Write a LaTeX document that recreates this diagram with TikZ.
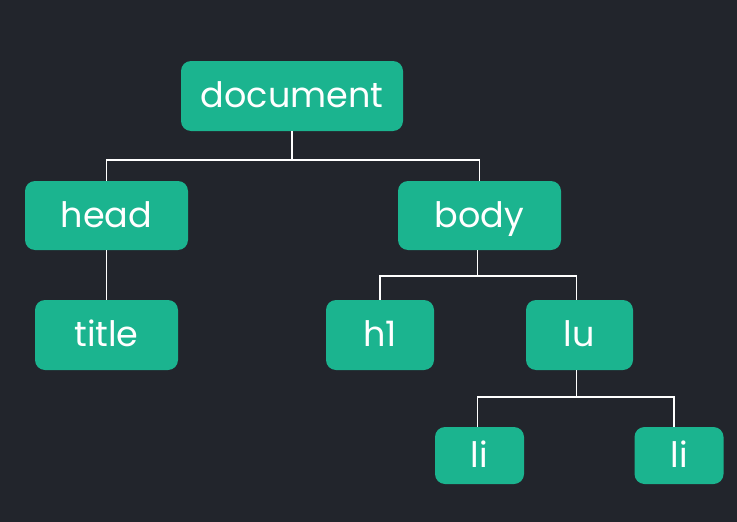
\documentclass[tikz,border=0pt]{standalone}
\usepackage{fontspec}
\setmainfont{Poppins}
\usetikzlibrary{positioning}

\definecolor{bgdark}{HTML}{22252C}
\definecolor{teal}{HTML}{1BB48F}

\begin{document}
\begin{tikzpicture}[
    x=1pt, y=-1pt,
    tag/.style={fill=teal, text=white, rounded corners=10pt, inner sep=0pt,
        text height=28pt, text depth=5pt,
        font=\fontsize{35}{35}\selectfont}, % Style for element boxes
    link/.style={draw=white, line width=1.5pt} % Style for tree edges
]

% Background
\fill[bgdark] (0,0) rectangle (737,522);

% Element boxes
\node[tag, minimum width=222pt, minimum height=70pt] (doc) at (292,96) {document};
\node[tag, minimum width=163pt, minimum height=69pt] (head) at (106.5,215.5) {head};
\node[tag, minimum width=163pt, minimum height=69pt] (body) at (479.5,215.5) {body};
\node[tag, minimum width=143pt, minimum height=70pt] (title) at (106.5,335) {title};
\node[tag, minimum width=108pt, minimum height=70pt] (h1) at (380,335) {h1};
\node[tag, minimum width=107pt, minimum height=70pt] (lu) at (579.5,335) {lu};
\node[tag, minimum width=89pt, minimum height=57pt] (li1) at (479.5,455.5) {li};
\node[tag, minimum width=89pt, minimum height=57pt] (li2) at (679,455.5) {li};

% Edges
\draw[link] (doc.south) -- ([yshift=-29pt]doc.south) coordinate (docfork);
\draw[link] (docfork) -| (head.north);
\draw[link] (docfork) -| (body.north);
\draw[link] (head.south) -- (title.north);
\draw[link] ([xshift=-2pt]body.south) -- ([xshift=-2pt,yshift=-26pt]body.south) coordinate (bodyfork);
\draw[link] (bodyfork) -| (h1.north);
\draw[link] (bodyfork) -| ([xshift=-3pt]lu.north);
\draw[link] ([xshift=-3pt]lu.south) -- ([xshift=-3pt,yshift=-27pt]lu.south) coordinate (lufork);
\draw[link] (lufork) -| ([xshift=-2pt]li1.north);
\draw[link] (lufork) -| ([xshift=-5pt]li2.north);

\end{tikzpicture}
\end{document}
